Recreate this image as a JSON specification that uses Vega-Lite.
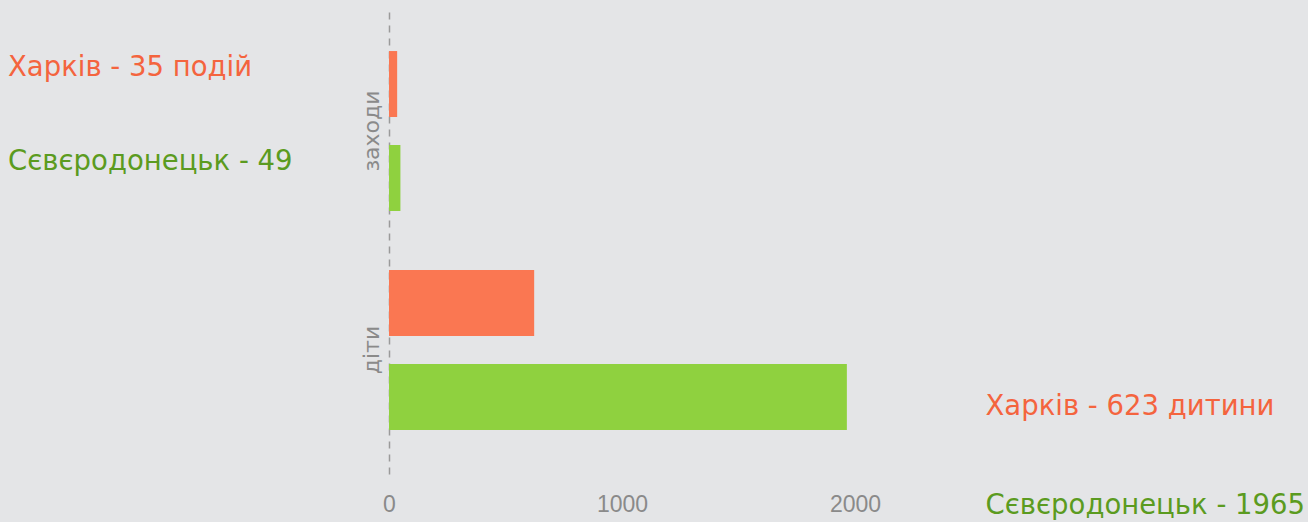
{
  "$schema": "https://vega.github.io/schema/vega-lite/v6.json",
  "autosize": "none",
  "width": 919,
  "height": 466,
  "padding": {"left": 389, "top": 12, "right": 0, "bottom": 44},
  "background": "#e4e5e7",
  "config": {"view": {"stroke": null}, "font": "DejaVu Sans"},
  "datasets": {
    "bars": [
      {"category": "заходи", "city": "Харків", "value": 35},
      {"category": "заходи", "city": "Сєвєродонецьк", "value": 49},
      {"category": "діти", "city": "Харків", "value": 623},
      {"category": "діти", "city": "Сєвєродонецьк", "value": 1965}
    ],
    "labels": [
      {"category": "заходи", "city": "Харків", "label": "Харків - 35 подій"},
      {"category": "заходи", "city": "Сєвєродонецьк", "label": "Сєвєродонецьк - 49"},
      {"category": "діти", "city": "Харків", "label": "Харків - 623 дитини"},
      {"category": "діти", "city": "Сєвєродонецьк", "label": "Сєвєродонецьк - 1965"}
    ]
  },
  "encoding": {
    "y": {
      "field": "category", "type": "nominal",
      "scale": {"domain": ["заходи", "діти"], "paddingInner": 0, "paddingOuter": 0.064, "align": 0.34},
      "axis": {
        "title": null, "ticks": false, "tickSize": 0, "labelAngle": -90, "labelPadding": 6,
        "labelFontSize": 22, "labelColor": "#8a8a8a", "labelFont": "DejaVu Sans",
        "domainDash": [7, 6], "domainColor": "#9a9a9a", "domainWidth": 1.5
      }
    },
    "yOffset": {
      "field": "city", "type": "nominal",
      "scale": {"domain": ["Харків", "Сєвєродонецьк"], "paddingInner": 0.298, "paddingOuter": 0.314}
    }
  },
  "layer": [
    {
      "data": {"name": "bars"},
      "mark": {"type": "bar"},
      "encoding": {
        "x": {
          "field": "value", "type": "quantitative",
          "scale": {"domain": [0, 3944], "nice": false, "zero": true},
          "axis": {
            "title": null, "values": [0, 1000, 2000], "format": "d", "domain": false, "ticks": false, "tickSize": 0,
            "grid": false, "labelFlush": false, "labelPadding": 15, "labelFontSize": 23, "labelColor": "#8a8a8a",
            "labelFont": "Liberation Sans"
          }
        },
        "color": {
          "field": "city", "type": "nominal", "legend": null,
          "scale": {"domain": ["Харків", "Сєвєродонецьк"], "range": ["#fa7752", "#8fd13f"]}
        }
      }
    },
    {
      "data": {"name": "labels"},
      "transform": [{"filter": "datum.category === 'заходи' && datum.city === 'Харків'"}],
      "mark": {"type": "text", "align": "left", "baseline": "alphabetic", "dy": -8, "fontSize": 27.5, "font": "DejaVu Sans", "color": "#f4643e"},
      "encoding": {"x": {"datum": -1635}, "text": {"field": "label"}}
    },
    {
      "data": {"name": "labels"},
      "transform": [{"filter": "datum.category === 'заходи' && datum.city === 'Сєвєродонецьк'"}],
      "mark": {"type": "text", "align": "left", "baseline": "alphabetic", "dy": -8, "fontSize": 27.5, "font": "DejaVu Sans", "color": "#5b9b20"},
      "encoding": {"x": {"datum": -1635}, "text": {"field": "label"}}
    },
    {
      "data": {"name": "labels"},
      "transform": [{"filter": "datum.category === 'діти' && datum.city === 'Харків'"}],
      "mark": {"type": "text", "align": "left", "baseline": "alphabetic", "dy": 112, "fontSize": 27.5, "font": "DejaVu Sans", "color": "#f4643e"},
      "encoding": {"x": {"datum": 2560}, "text": {"field": "label"}}
    },
    {
      "data": {"name": "labels"},
      "transform": [{"filter": "datum.category === 'діти' && datum.city === 'Сєвєродонецьк'"}],
      "mark": {"type": "text", "align": "left", "baseline": "alphabetic", "dy": 117, "fontSize": 27.5, "font": "DejaVu Sans", "color": "#5b9b20"},
      "encoding": {"x": {"datum": 2560}, "text": {"field": "label"}}
    }
  ]
}
